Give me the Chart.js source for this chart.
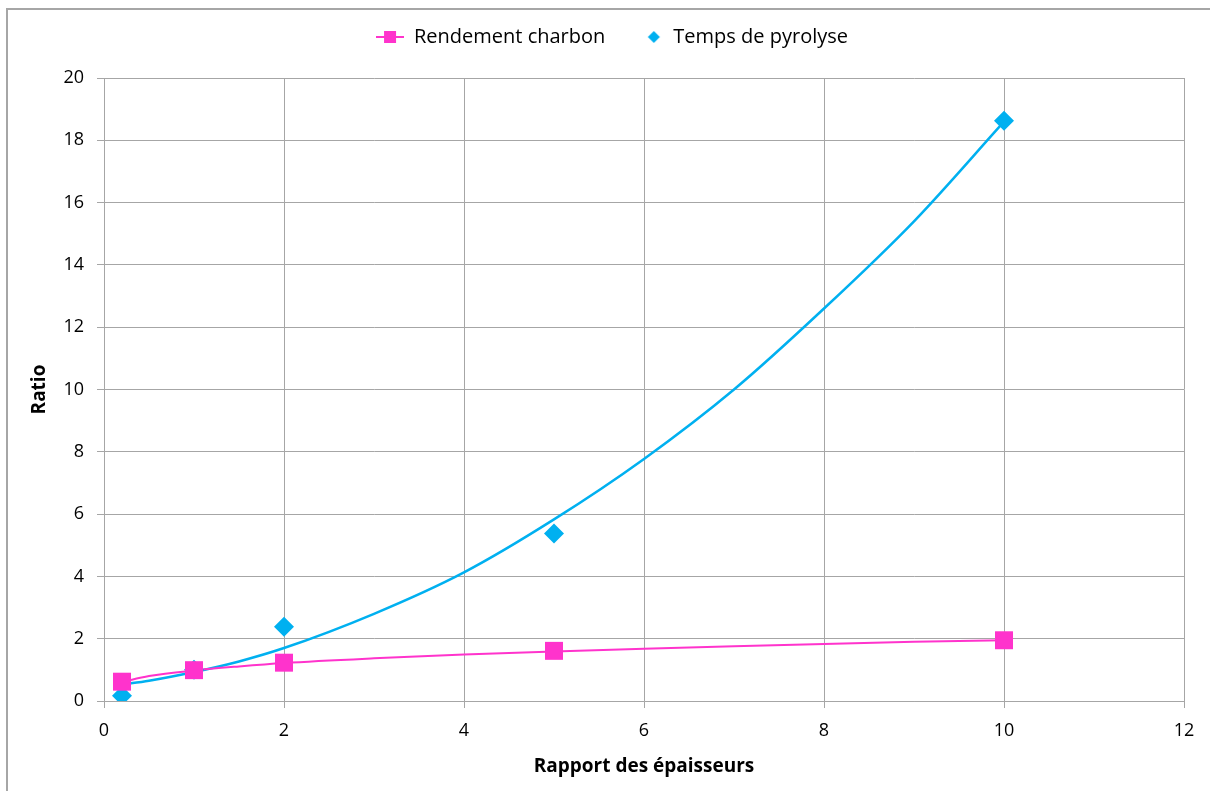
<!DOCTYPE html>
<html>
<head>
<meta charset="utf-8">
<script src="https://cdn.jsdelivr.net/npm/chart.js@4/dist/chart.umd.min.js"></script>
<style>
  html, body { margin: 0; padding: 0; background: #fff; overflow: hidden; }
  #wrap { position: relative; width: 1210px; height: 791px; }
  #frame { position: absolute; left: 6px; top: 8px; width: 1300px; height: 900px;
           border: 2px solid #a6a6a6; box-sizing: border-box; pointer-events: none; }
  canvas { position: absolute; left: 0; top: 0; }
</style>
</head>
<body>
<div id="wrap">
  <canvas id="chart" width="1210" height="791"></canvas>
  <div id="frame"></div>
</div>
<script>
// Measured points
const ratioX = [0.2, 1, 2, 5, 10];
const rendementCharbon = [0.62, 0.99, 1.23, 1.61, 1.95];
const tempsPyrolyse = [0.17, 1.0, 2.38, 5.38, 18.63];

// Trend curves
const trendX = [0.2, 0.5, 1, 1.5, 2, 3, 4, 5, 6, 7, 8, 9, 10];
const rendementTrend = [0.61, 0.80, 0.98, 1.11, 1.22, 1.37, 1.49, 1.59, 1.68, 1.76, 1.83, 1.90, 1.95];
const pyrolyseTrend = [0.53, 0.65, 0.93, 1.27, 1.70, 2.80, 4.13, 5.83, 7.77, 10.0, 12.6, 15.4, 18.6];

const PINK = '#ff33cc';
const BLUE = '#00b0f0';
const FONT = '"Open Sans", Lato, sans-serif';

function toPoints(xs, ys) {
    return xs.map((x, i) => ({ x: x, y: ys[i] }));
}

// legend markers (28 px wide boxes)
function lineSquareIcon() {
    const c = document.createElement('canvas');
    c.width = 28; c.height = 14;
    const g = c.getContext('2d');
    g.strokeStyle = PINK;
    g.lineWidth = 2;
    g.beginPath(); g.moveTo(0, 7); g.lineTo(28, 7); g.stroke();
    g.fillStyle = PINK;
    g.fillRect(8, 1, 12, 12);
    return c;
}

function diamondIcon() {
    const c = document.createElement('canvas');
    c.width = 28; c.height = 14;
    const g = c.getContext('2d');
    g.fillStyle = BLUE;
    g.beginPath();
    g.moveTo(18.5, 1); g.lineTo(24.5, 7); g.lineTo(18.5, 13); g.lineTo(12.5, 7);
    g.closePath(); g.fill();
    return c;
}

// empty box between legend and plot area, and a small nudge of the legend to the right
const legendSpacer = {
    id: 'legendSpacer',
    beforeInit(chart) {
        Chart.layouts.addBox(chart, {
            position: 'top',
            weight: 0,
            fullSize: true,
            options: { stackWeight: 1 },
            width: 0,
            height: 0,
            update(maxWidth) { this.width = maxWidth; this.height = 21; },
            isHorizontal() { return true; },
            draw() {}
        });
    },
    afterLayout(chart) {
        chart.legend.left += 20;
        chart.legend.right += 20;
    }
};

const ctx = document.getElementById('chart').getContext('2d');

new Chart(ctx, {
    type: 'scatter',
    data: {
        datasets: [
            {
                label: 'Rendement charbon',
                data: toPoints(ratioX, rendementCharbon),
                pointStyle: 'rect',
                pointRadius: 12.7,
                backgroundColor: PINK,
                borderColor: PINK,
                borderWidth: 0,
                order: 1
            },
            {
                label: 'Temps de pyrolyse',
                data: toPoints(ratioX, tempsPyrolyse),
                pointStyle: 'rectRot',
                pointRadius: 10,
                backgroundColor: BLUE,
                borderColor: BLUE,
                borderWidth: 0,
                order: 1
            },
            {
                label: 'trend-rendement',
                data: toPoints(trendX, rendementTrend),
                showLine: true,
                pointRadius: 0,
                borderColor: PINK,
                borderWidth: 2,
                cubicInterpolationMode: 'monotone',
                order: 2
            },
            {
                label: 'trend-pyrolyse',
                data: toPoints(trendX, pyrolyseTrend),
                showLine: true,
                pointRadius: 0,
                borderColor: BLUE,
                borderWidth: 2.5,
                cubicInterpolationMode: 'monotone',
                order: 2
            }
        ]
    },
    plugins: [legendSpacer],
    options: {
        responsive: false,
        animation: false,
        layout: { padding: { left: 0, right: 26, top: -3, bottom: 0 } },
        plugins: {
            tooltip: { enabled: false },
            legend: {
                position: 'top',
                labels: {
                    usePointStyle: true,
                    pointStyleWidth: 28,
                    padding: 30,
                    color: '#000',
                    font: { family: FONT, size: 20 },
                    generateLabels: function(chart) {
                        return [
                            { text: 'Rendement charbon', pointStyle: lineSquareIcon(), fillStyle: PINK,
                              strokeStyle: PINK, lineWidth: 0, fontColor: '#000', datasetIndex: 0 },
                            { text: 'Temps de pyrolyse', pointStyle: diamondIcon(), fillStyle: BLUE,
                              strokeStyle: BLUE, lineWidth: 0, fontColor: '#000', datasetIndex: 1 }
                        ];
                    }
                }
            }
        },
        scales: {
            x: {
                type: 'linear',
                min: 0,
                max: 12,
                ticks: { stepSize: 2, color: '#000', padding: 12, font: { family: FONT, size: 18 } },
                grid: { color: '#a6a6a6', tickLength: 7, tickColor: '#a6a6a6' },
                border: { color: '#a6a6a6' },
                title: {
                    display: true,
                    text: 'Rapport des épaisseurs',
                    color: '#000',
                    font: { family: FONT, size: 19, weight: 'bold' },
                    padding: { top: 4, bottom: 13 }
                },
                afterFit: function(scale) { scale.height = 90; }
            },
            y: {
                min: 0,
                max: 20,
                ticks: { stepSize: 2, color: '#000', padding: 13, font: { family: FONT, size: 18 } },
                grid: { color: '#a6a6a6', tickLength: 7, tickColor: '#a6a6a6' },
                border: { color: '#a6a6a6' },
                title: {
                    display: true,
                    text: 'Ratio',
                    color: '#000',
                    font: { family: FONT, size: 19, weight: 'bold' },
                    padding: { top: 28, bottom: 4 }
                },
                afterFit: function(scale) { scale.width = 104; }
            }
        }
    }
});
</script>
</body>
</html>
